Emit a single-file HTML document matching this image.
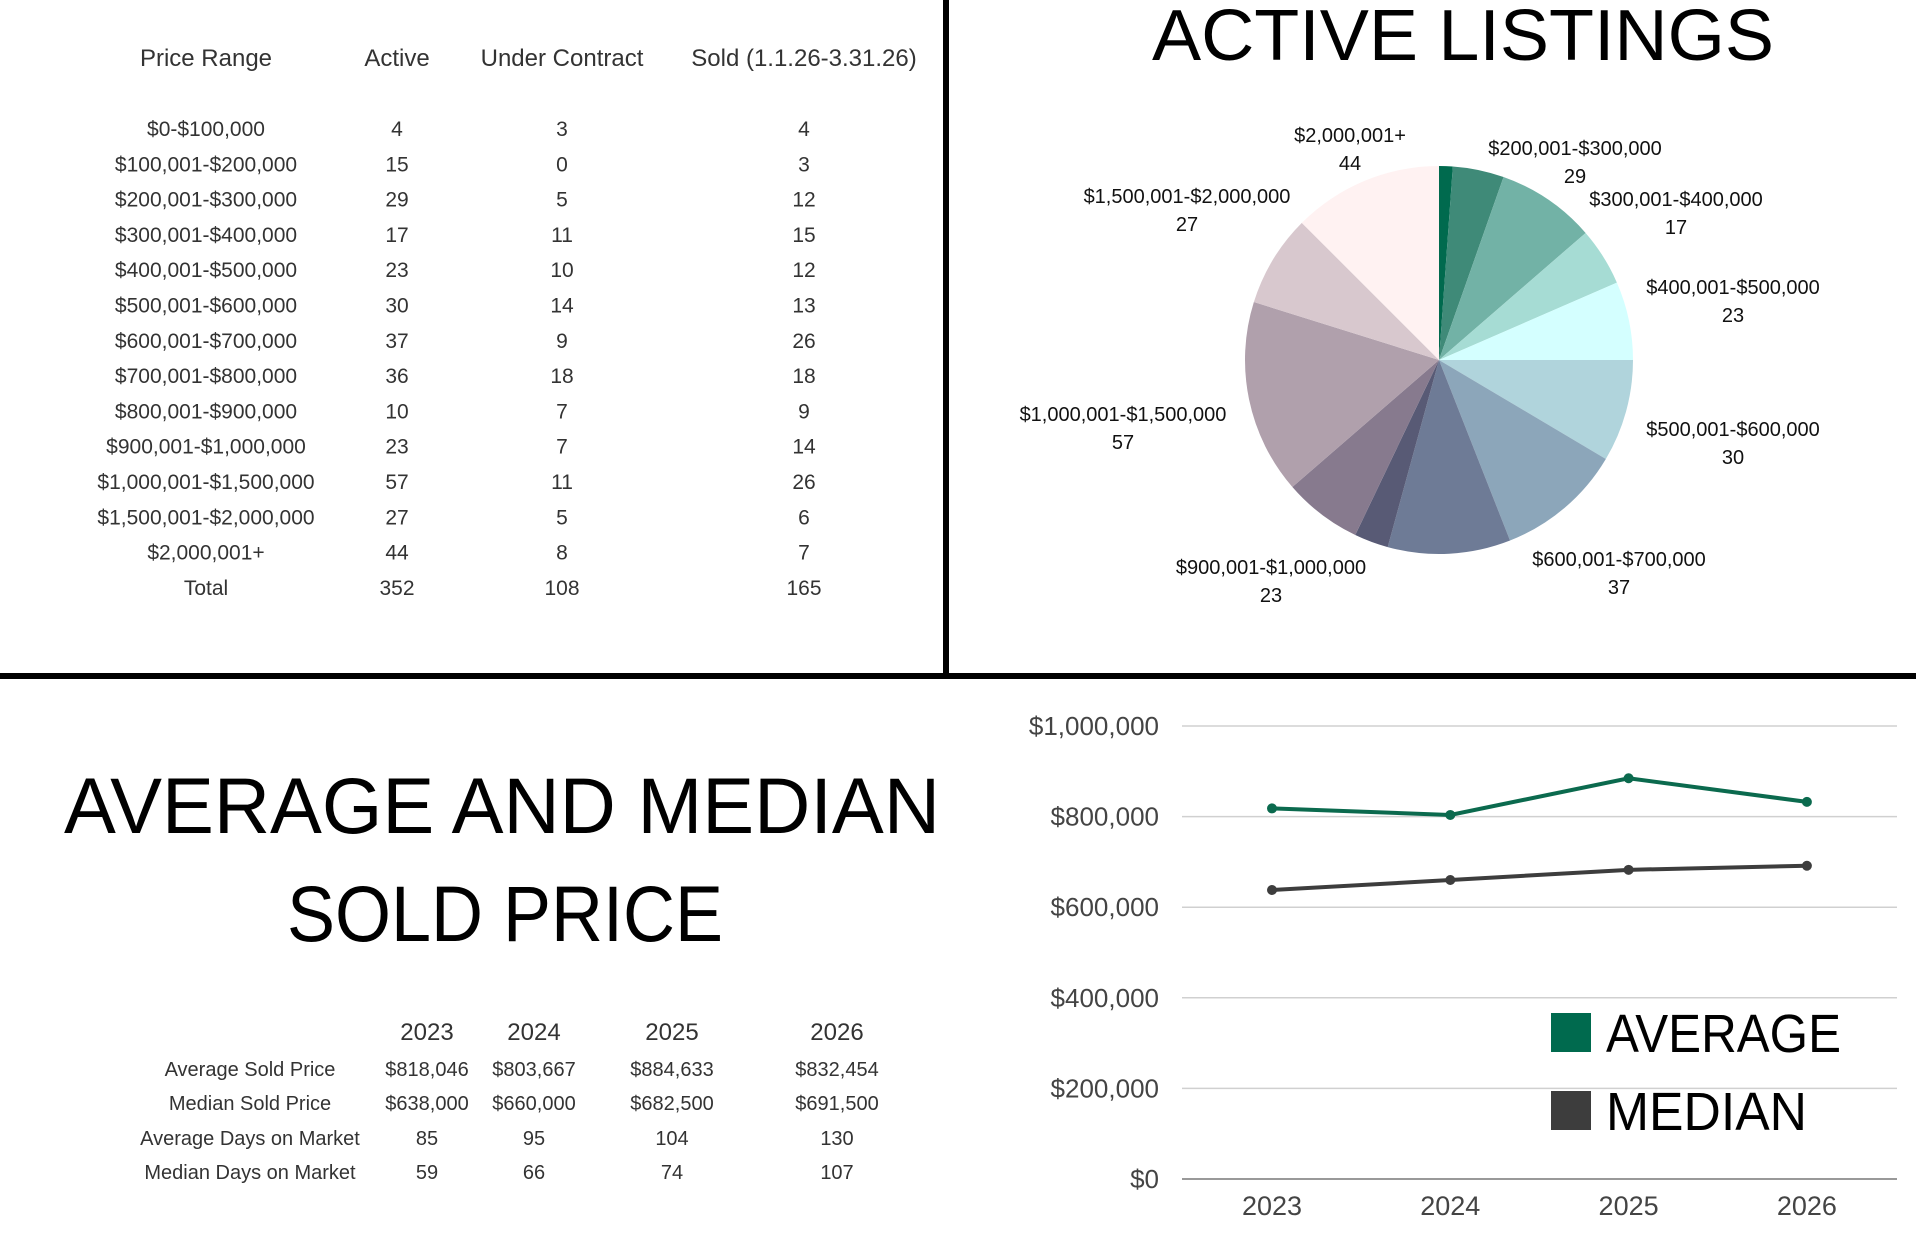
<!DOCTYPE html>
<html><head><meta charset="utf-8"><style>
html,body{margin:0;padding:0;background:#fff;}
svg{display:block;font-family:"Liberation Sans",sans-serif;}
</style></head><body>
<svg id="root" width="1920" height="1240" viewBox="0 0 1920 1240" xmlns="http://www.w3.org/2000/svg">
<rect x="0" y="0" width="1920" height="1240" fill="#fff"/>
<rect x="943" y="0" width="6" height="677" fill="#000"/>
<rect x="0" y="673" width="1916" height="6" fill="#000"/>
<g id="table1"></g>
<text x="1463" y="60" font-size="72" text-anchor="middle" textLength="622" lengthAdjust="spacingAndGlyphs" fill="#000">ACTIVE LISTINGS</text>
<g id="pie"></g>
<g id="pieLabels"></g>
<text x="502" y="833" font-size="79" text-anchor="middle" textLength="876" lengthAdjust="spacingAndGlyphs" fill="#000">AVERAGE AND MEDIAN</text>
<text x="505" y="941" font-size="79" text-anchor="middle" textLength="436" lengthAdjust="spacingAndGlyphs" fill="#000">SOLD PRICE</text>
<g id="table2"></g>
<g id="line"></g>
</svg>
<script>
const NS="http://www.w3.org/2000/svg";
// Table 1 data
const t1Headers=["Price Range","Active","Under Contract","Sold (1.1.26-3.31.26)"];
const priceRanges=["$0-$100,000","$100,001-$200,000","$200,001-$300,000","$300,001-$400,000","$400,001-$500,000","$500,001-$600,000","$600,001-$700,000","$700,001-$800,000","$800,001-$900,000","$900,001-$1,000,000","$1,000,001-$1,500,000","$1,500,001-$2,000,000","$2,000,001+","Total"];
const activeCounts=[4,15,29,17,23,30,37,36,10,23,57,27,44,352];
const underContract=[3,0,5,11,10,14,9,18,7,7,11,5,8,108];
const soldCounts=[4,3,12,15,12,13,26,18,9,14,26,6,7,165];
// Pie data
const pieCategories=["$0-$100,000","$100,001-$200,000","$200,001-$300,000","$300,001-$400,000","$400,001-$500,000","$500,001-$600,000","$600,001-$700,000","$700,001-$800,000","$800,001-$900,000","$900,001-$1,000,000","$1,000,001-$1,500,000","$1,500,001-$2,000,000","$2,000,001+"];
const pieValues=[4,15,29,17,23,30,37,36,10,23,57,27,44];
const pieLabelNames=["$2,000,001+","$200,001-$300,000","$1,500,001-$2,000,000","$300,001-$400,000","$400,001-$500,000","$1,000,001-$1,500,000","$500,001-$600,000","$900,001-$1,000,000","$600,001-$700,000"];
const pieLabelValues=["44","29","27","17","23","57","30","23","37"];
// Line chart data
const years=["2023","2024","2025","2026"];
const avgPrice=[818046,803667,884633,832454];
const medPrice=[638000,660000,682500,691500];
const yTicks=[0,200000,400000,600000,800000,1000000];
const yTickLabels=["$0","$200,000","$400,000","$600,000","$800,000","$1,000,000"];
// Table 2 data
const t2RowLabels=["Average Sold Price","Median Sold Price","Average Days on Market","Median Days on Market"];
const t2Avg=["$818,046","$803,667","$884,633","$832,454"];
const t2Med=["$638,000","$660,000","$682,500","$691,500"];
const t2AvgDays=["85","95","104","130"];
const t2MedDays=["59","66","74","107"];

function txt(parent,x,y,s,size,fill,anchor){
  const t=document.createElementNS(NS,"text");
  t.setAttribute("x",x);t.setAttribute("y",y);t.setAttribute("font-size",size);
  t.setAttribute("fill",fill);t.setAttribute("text-anchor",anchor||"middle");
  t.textContent=s;parent.appendChild(t);return t;
}
// Table 1
const t1=document.getElementById("table1");
const t1X=[206,397,562,804];
t1Headers.forEach((h,i)=>{
  const t=txt(t1,t1X[i],66,h,24,"#333");
  
  
});
priceRanges.forEach((r,i)=>{
  const y=136+i*35.3;
  const cols=[r,activeCounts[i],underContract[i],soldCounts[i]];
  cols.forEach((c,j)=>{
    const t=txt(t1,t1X[j],y,String(c),21,"#333");
    
    
  });
});
// Pie
const pie=document.getElementById("pie");
const colors=["#006a4e","#3f8a78","#72b2a6","#a6dcd4","#d4ffff","#b0d4dc","#8ca6ba","#6e7b96","#585a75","#877a8e","#b0a0ac","#d8c8ce","#fff2f2"];
const cx=1439,cy=360,R=194;
const total=pieValues.reduce((a,b)=>a+b,0);
let ang=-Math.PI/2;
pieValues.forEach((v,i)=>{
  const a2=ang+v/total*2*Math.PI;
  const x1=cx+R*Math.cos(ang),y1=cy+R*Math.sin(ang);
  const x2=cx+R*Math.cos(a2),y2=cy+R*Math.sin(a2);
  const p=document.createElementNS(NS,"path");
  p.setAttribute("d",`M${cx},${cy} L${x1},${y1} A${R},${R} 0 ${a2-ang>Math.PI?1:0} 1 ${x2},${y2} Z`);
  p.setAttribute("fill",colors[i]);
  
  
  pie.appendChild(p);
  ang=a2;
});
const pl=document.getElementById("pieLabels");
const labelPos=[[1350,142],[1575,155],[1187,203],[1676,206],[1733,294],[1123,421],[1733,436],[1271,574],[1619,566]];
pieLabelNames.forEach((n,i)=>{
  const [x,y]=labelPos[i];
  const a=txt(pl,x,y,n,20,"#111");
  
  
  const b=txt(pl,x,y+28,pieLabelValues[i],20,"#111");
  
  
});
// Line chart
const lc=document.getElementById("line");
const X0=1182,X1=1897,Y0=1179,Y1=726,YMAX=1000000;
const yS=v=>Y0-(v/YMAX)*(Y0-Y1);
const xS=i=>1272+i*178.3;
yTicks.forEach((v,i)=>{
  const l=document.createElementNS(NS,"line");
  l.setAttribute("x1",X0);l.setAttribute("x2",X1);l.setAttribute("y1",yS(v));l.setAttribute("y2",yS(v));
  l.setAttribute("stroke",v===0?"#999":"#d0d0d0");l.setAttribute("stroke-width",v===0?2:1.5);
  
  
  lc.appendChild(l);
  const t=txt(lc,1159,yS(v)+9,yTickLabels[i],26,"#444","end");
  
  
});
years.forEach((y,i)=>{
  const t=txt(lc,xS(i),1215,y,27,"#444");
  
  
});
function series(vals,color,name){
  const pts=vals.map((v,i)=>xS(i)+","+yS(v)).join(" ");
  const pl=document.createElementNS(NS,"polyline");
  pl.setAttribute("points",pts);pl.setAttribute("fill","none");
  pl.setAttribute("stroke",color);pl.setAttribute("stroke-width",4);
  
  
  lc.appendChild(pl);
  vals.forEach((v,i)=>{
    const c=document.createElementNS(NS,"circle");
    c.setAttribute("cx",xS(i));c.setAttribute("cy",yS(v));c.setAttribute("r",5);c.setAttribute("fill",color);
    
    
    lc.appendChild(c);
  });
}
series(avgPrice,"#0b6a4e","average");
series(medPrice,"#3d3d3d","median");
// legend
const lg=[["AVERAGE","#006a4e",1013,235],["MEDIAN","#3d3d3d",1091,201]];
lg.forEach(([n,c,y,w])=>{
  const r=document.createElementNS(NS,"rect");
  r.setAttribute("x",1551);r.setAttribute("y",y);r.setAttribute("width",40);r.setAttribute("height",39);r.setAttribute("fill",c);
  
  
  lc.appendChild(r);
  const t=txt(lc,1606,y+39,n,54,"#000","start");
  t.setAttribute("textLength",w);t.setAttribute("lengthAdjust","spacingAndGlyphs");
  
  
});
// Table 2
const t2=document.getElementById("table2");
const t2X=[427,534,672,837];
years.forEach((y,i)=>{
  const t=txt(t2,t2X[i],1040,y,24,"#333");
  
  
});
const rows=[t2Avg,t2Med,t2AvgDays,t2MedDays];
const rowY=[1076,1110,1145,1179];
t2RowLabels.forEach((l,i)=>{
  const t=txt(t2,250,rowY[i],l,20,"#333");
  
  
  rows[i].forEach((v,j)=>{
    const c=txt(t2,t2X[j],rowY[i],v,20,"#333");
    
    
  });
});
</script>
</body></html>
